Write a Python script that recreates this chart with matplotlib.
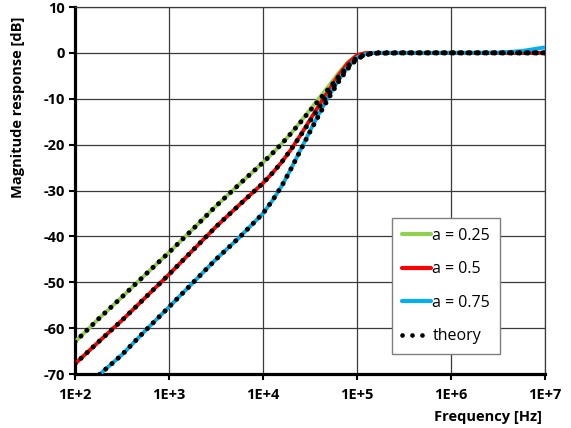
import matplotlib
matplotlib.use("Agg")
import matplotlib.pyplot as plt
import numpy as np
from matplotlib.lines import Line2D
from matplotlib.ticker import FixedLocator, FixedFormatter, NullLocator

# ---- data ----
log_f = [2.0, 2.25, 2.5, 2.75, 3.0, 3.25, 3.5, 3.75, 4.0, 4.1, 4.2, 4.3, 4.4, 4.5, 4.6, 4.7,
         4.8, 4.9, 5.0, 5.1, 5.2, 5.5, 6.0, 6.5, 6.75, 7.0]
freq = [10 ** v for v in log_f]

mag_a025 = [-63.0, -58.0, -53.2, -48.3, -43.5, -38.5, -33.4, -28.6, -23.9, -21.9, -19.8, -17.5,
            -15.0, -12.4, -9.8, -7.2, -4.5, -2.1, -0.5, 0.0, 0.0, 0.0, 0.0, 0.0, 0.0, 0.0]
mag_a05 = [-67.8, -63.0, -58.3, -53.3, -48.3, -43.1, -37.9, -33.1, -28.4, -26.2, -23.8, -21.0,
           -17.9, -14.6, -11.3, -8.2, -5.0, -2.3, -0.5, 0.0, 0.0, 0.0, 0.0, 0.0, 0.0, 0.0]
mag_a075 = [-75.0, -70.3, -65.8, -60.5, -55.4, -50.2, -45.0, -40.2, -35.0, -32.2, -29.0, -25.2,
            -21.1, -17.0, -13.1, -9.4, -6.0, -3.1, -1.0, -0.2, 0.0, 0.0, 0.0, 0.05, 0.4, 1.2]

th_a025 = [-63.0, -58.0, -53.2, -48.3, -43.5, -38.5, -33.4, -28.6, -23.9, -21.9, -19.8, -17.5,
           -15.1, -12.6, -10.2, -7.8, -5.3, -2.9, -1.0, -0.3, 0.0, 0.0, 0.0, 0.0, 0.0, 0.0]
th_a05 = [-67.8, -63.0, -58.3, -53.3, -48.3, -43.1, -37.9, -33.1, -28.4, -26.2, -23.8, -21.0,
          -18.0, -14.9, -11.8, -8.9, -5.8, -3.1, -1.1, -0.3, 0.0, 0.0, 0.0, 0.0, 0.0, 0.0]
th_a075 = [-75.0, -70.3, -65.8, -60.5, -55.4, -50.2, -45.0, -40.2, -35.0, -32.2, -29.0, -25.2,
           -21.2, -17.2, -13.4, -9.8, -6.4, -3.5, -1.3, -0.4, -0.1, 0.0, 0.0, 0.0, 0.0, 0.0]

labels = ["a = 0.25", "a = 0.5", "a = 0.75"]
colors = ["#92D050", "#FF0000", "#00B0F0"]
xtick_vals = [1e2, 1e3, 1e4, 1e5, 1e6, 1e7]
xtick_labels = ["1E+2", "1E+3", "1E+4", "1E+5", "1E+6", "1E+7"]
ytick_vals = [10, 0, -10, -20, -30, -40, -50, -60, -70]

plt.rcParams['font.family'] = ['Open Sans', 'DejaVu Sans']

fig = plt.figure(figsize=(5.71, 4.28), dpi=100)
ax = fig.add_axes([75 / 571, 1 - 374 / 428, 470 / 571, 367 / 428])

for mag, c, lab in zip([mag_a025, mag_a05, mag_a075], colors, labels):
    ax.plot(freq, mag, color=c, lw=2.8, label=lab, solid_capstyle='butt', zorder=3)

dot_style = dict(color='black', lw=3.6, linestyle=(0, (0.01, 1.65)),
                 dash_capstyle='round', zorder=4)
for th in [th_a025, th_a05, th_a075]:
    ax.plot(freq, th, **dot_style)

ax.set_xscale('log')
ax.set_xlim(1e2, 1e7)
ax.set_ylim(-70, 10)
ax.xaxis.set_major_locator(FixedLocator(xtick_vals))
ax.xaxis.set_major_formatter(FixedFormatter(xtick_labels))
ax.xaxis.set_minor_locator(NullLocator())
ax.set_yticks(ytick_vals)
ax.set_yticklabels([str(v) for v in ytick_vals])

ax.grid(True, color='#3a3a3a', lw=0.9, zorder=1)
for s in ['top', 'right']:
    ax.spines[s].set_color('#3a3a3a')
    ax.spines[s].set_linewidth(0.9)
for s in ['left', 'bottom']:
    ax.spines[s].set_color('black')
    ax.spines[s].set_linewidth(2.3)

ax.tick_params(axis='both', direction='out', length=4, width=1.5, color='black',
               labelsize=10.5, pad=3)
for t in ax.get_xticklabels() + ax.get_yticklabels():
    t.set_fontweight('bold')
ax.tick_params(axis='x', pad=6)

ax.set_ylabel("Magnitude response [dB]", fontsize=10.5, fontweight='bold')
ax.yaxis.set_label_coords(-0.106, 0.7275)
ax.set_xlabel("Frequency [Hz]", fontsize=10.5, fontweight='bold')
ax.xaxis.set_label_coords(0.878, -0.097)

handles = [Line2D([], [], color=c, lw=3.0, solid_capstyle='round') for c in colors]
handles.append(Line2D([], [], color='black', lw=3.4, linestyle=(0, (0.01, 2.1)),
                      dash_capstyle='round'))
leg = ax.legend(handles, labels + ["theory"], loc='upper left',
                bbox_to_anchor=(0.6745, 0.425), fontsize=11.5, frameon=True,
                fancybox=False, edgecolor='#7f7f7f', framealpha=1,
                handlelength=1.82, handletextpad=0.1, labelspacing=1.1,
                borderpad=0.6, borderaxespad=0)
leg.get_frame().set_linewidth(1.0)
leg.set_zorder(5)

fig.savefig("out.png", dpi=100)
